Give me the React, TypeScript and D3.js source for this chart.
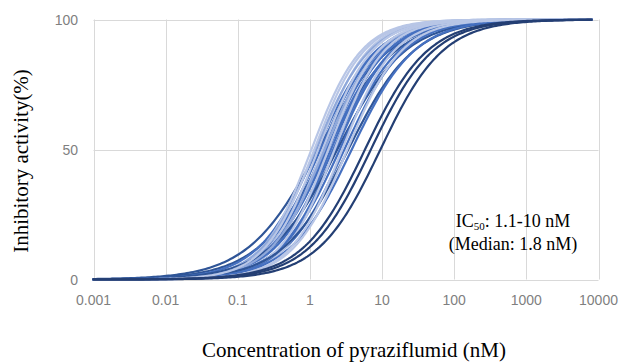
import React from 'react';
import * as d3 from 'd3';

// fitted dose-response parameters (one entry per curve)
const ic50Values = [
  1.05, 1.3, 2.2, 1.15, 1.5, 2.8, 1.8, 3.3,
  1.2, 1.6,
  1.25, 1.4, 1.55, 1.7, 1.8, 1.95, 2.1, 2.3, 2.6, 3.0, 3.8,
  1.3, 1.7, 2.4, 3.4,
  5.8, 7.0, 9.5,
];
const hillSlopes = [
  1.25, 1.25, 1.25, 1.25, 1.25, 1.2, 1.25, 1.15,
  1.15, 1.15,
  1.05, 1.1, 1.1, 1.1, 1.05, 1.1, 1.05, 1.1, 1.05, 1.05, 1.0,
  0.88, 0.9, 0.92, 0.95,
  1.0, 1.0, 1.0,
];
const shadeIndex = [
  0, 0, 0, 0, 0, 0, 0, 0,
  1, 1,
  2, 2, 2, 2, 2, 2, 2, 2, 2, 2, 2,
  3, 3, 3, 3,
  4, 4, 4,
];
const shades = ['#b8c6e6', '#8fa8da', '#4570c0', '#2f5597', '#243f74'];
// draw order (lighter curves interleaved with the blues)
const drawOrder = [21, 22, 10, 11, 0, 12, 13, 1, 14, 8, 15, 4, 16, 17, 23, 9, 18, 6, 19, 2, 24, 20, 3, 5, 7, 25, 26, 27];

const concRange = [0.001, 8000];
const xTicks = [0.001, 0.01, 0.1, 1, 10, 100, 1000, 10000];
const xTickLabels = ['0.001', '0.01', '0.1', '1', '10', '100', '1000', '10000'];
const yTicks = [0, 50, 100];

const W = 620;
const H = 362;
const plot = { left: 93.5, right: 598.5, top: 19.5, bottom: 279.5 };

export default function App() {
  const x = d3.scaleLog().domain([0.001, 10000]).range([plot.left, plot.right]);
  const y = d3.scaleLinear().domain([0, 100]).range([plot.bottom, plot.top]);

  const samples = d3.range(0, 241).map(
    (i) => Math.pow(10, Math.log10(concRange[0]) + (i / 240) * (Math.log10(concRange[1]) - Math.log10(concRange[0])))
  );

  const line = d3
    .line<number[]>()
    .x((d) => x(d[0]))
    .y((d) => y(d[1]))
    .curve(d3.curveLinear);

  const response = (c: number, ic50: number, h: number) => 100 / (1 + Math.pow(ic50 / c, h));

  const gridColor = '#d9d9d9';
  const labelColor = '#7f7f7f';

  return (
    <svg
      width={W}
      height={H}
      viewBox={`0 0 ${W} ${H}`}
      style={{ position: 'absolute', left: 0, top: 0, background: '#fff' }}
    >
      {/* grid */}
      <g>
        {xTicks.map((t) => (
          <line
            key={'gx' + t}
            x1={Math.round(x(t)) + 0.5}
            x2={Math.round(x(t)) + 0.5}
            y1={plot.top}
            y2={plot.bottom}
            stroke={gridColor}
            strokeWidth={1}
          />
        ))}
        {yTicks.map((t) => (
          <line
            key={'gy' + t}
            x1={plot.left}
            x2={plot.right}
            y1={Math.round(y(t)) + 0.5}
            y2={Math.round(y(t)) + 0.5}
            stroke={gridColor}
            strokeWidth={1}
          />
        ))}
      </g>

      {/* tick labels */}
      <g fontFamily="'Liberation Sans', Arial, sans-serif" fontSize={14} fill={labelColor}>
        {yTicks.map((t) => (
          <text key={'ty' + t} x={78} y={y(t) + 5} textAnchor="end">
            {t}
          </text>
        ))}
        {xTicks.map((t, i) => (
          <text key={'tx' + t} x={x(t)} y={305} textAnchor="middle">
            {xTickLabels[i]}
          </text>
        ))}
      </g>

      {/* curves */}
      <g fill="none" strokeWidth={2.2} strokeLinejoin="round" strokeLinecap="round">
        {drawOrder.map((k) => (
          <path
            key={'c' + k}
            d={line(samples.map((c) => [c, response(c, ic50Values[k], hillSlopes[k])])) || ''}
            stroke={shades[shadeIndex[k]]}
          />
        ))}
      </g>

      {/* annotation */}
      <g fontFamily="'Liberation Serif', 'Times New Roman', serif" fontSize={18} fill="#000" textAnchor="middle">
        <text x={513} y={227}>
          IC<tspan fontSize={11} dy={3}>50</tspan>
          <tspan dy={-3}>: 1.1-10 nM</tspan>
        </text>
        <text x={513} y={250}>
          (Median: 1.8 nM)
        </text>
      </g>

      {/* axis titles */}
      <g fontFamily="'Liberation Serif', 'Times New Roman', serif" fontSize={21} fill="#000" textAnchor="middle">
        <text x={354} y={357}>
          Concentration of pyraziflumid (nM)
        </text>
        <text transform={`translate(28, 161) rotate(-90)`}>Inhibitory activity(%)</text>
      </g>
    </svg>
  );
}
